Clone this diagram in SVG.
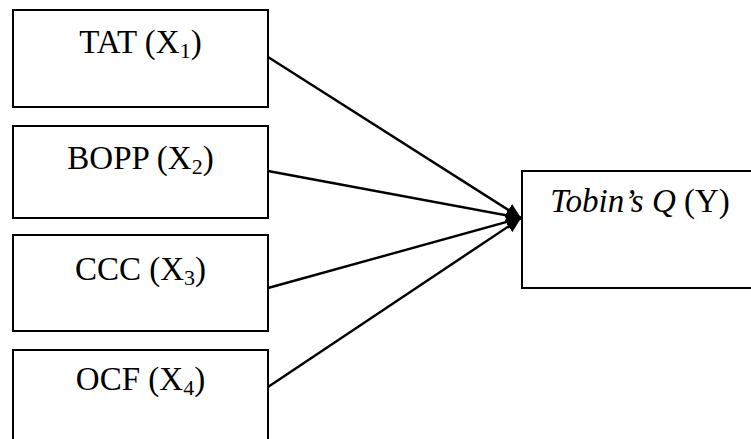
<svg xmlns="http://www.w3.org/2000/svg" width="751" height="439" viewBox="0 0 751 439">
  <style>
    .box { fill: #ffffff; stroke: #000000; stroke-width: 2; }
    .lbl { font-family: "Liberation Serif", "Times New Roman", serif; font-size: 33px; fill: #000000; text-anchor: middle; }
    .sub { font-size: 22px; }
    .it { font-style: italic; }
    .link { fill: none; stroke: #000000; stroke-width: 2.4; marker-end: url(#head); }
  </style>
  <defs>
    <marker id="head" markerUnits="userSpaceOnUse" markerWidth="16" markerHeight="14" refX="15" refY="7" orient="auto">
      <path d="M0,0 L15,7 L0,14 Z" fill="#000000"/>
    </marker>
  </defs>

  <rect width="751" height="439" fill="#ffffff"/>

  <!-- predictors -->
  <g id="tat">
    <rect class="box" x="13" y="10" width="255" height="97"/>
    <text class="lbl" x="140.5" y="53">TAT (X<tspan class="sub" dy="5">1</tspan><tspan dy="-5">)</tspan></text>
  </g>
  <g id="bopp">
    <rect class="box" x="13" y="126" width="255" height="92"/>
    <text class="lbl" x="140.5" y="169">BOPP (X<tspan class="sub" dy="5">2</tspan><tspan dy="-5">)</tspan></text>
  </g>
  <g id="ccc">
    <rect class="box" x="13" y="235" width="255" height="96"/>
    <text class="lbl" x="140.5" y="280">CCC (X<tspan class="sub" dy="5">3</tspan><tspan dy="-5">)</tspan></text>
  </g>
  <g id="ocf">
    <rect class="box" x="13" y="350" width="255" height="97"/>
    <text class="lbl" x="140.5" y="390">OCF (X<tspan class="sub" dy="5">4</tspan><tspan dy="-5">)</tspan></text>
  </g>

  <!-- outcome -->
  <g id="tobinsq">
    <rect class="box" x="522" y="171" width="240" height="117"/>
    <text class="lbl" x="640" y="212"><tspan class="it">Tobin’s Q</tspan> (Y)</text>
  </g>

  <!-- paths into the outcome -->
  <g id="connectors">
    <line class="link" x1="268" y1="57" x2="521" y2="218"/>
    <line class="link" x1="268" y1="171" x2="521" y2="218"/>
    <line class="link" x1="268" y1="288" x2="521" y2="218"/>
    <line class="link" x1="268" y1="387" x2="521" y2="218"/>
  </g>
</svg>
